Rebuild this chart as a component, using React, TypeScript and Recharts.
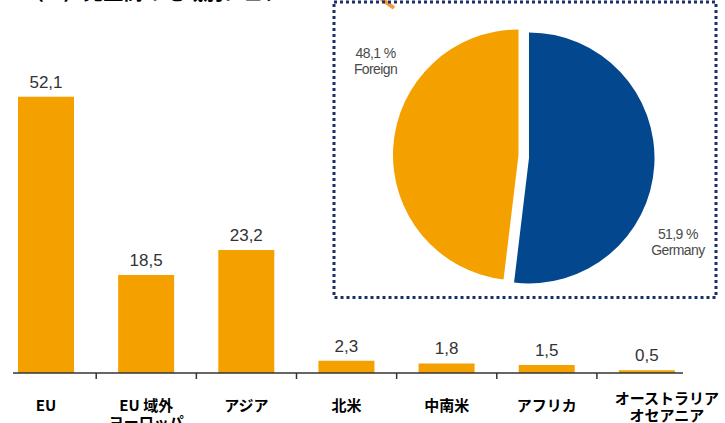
import React from 'react';
import { BarChart, Bar, XAxis, YAxis, LabelList, PieChart, Pie, Cell } from 'recharts';

const regionKeys = ['EU', 'EU域外', 'アジア', '北米', '中南米', 'アフリカ', 'オセアニア'];
const regionLines: string[][] = [
  ['EU'],
  ['EU 域外', 'ヨーロッパ'],
  ['アジア'],
  ['北米'],
  ['中南米'],
  ['アフリカ'],
  ['オーストラリア', 'オセアニア'],
];
const regionShares = [52.1, 18.5, 23.2, 2.3, 1.8, 1.5, 0.5];
const yDomain = [0, 60];

const pieNames = ['Germany', 'Foreign'];
const pieShares = [51.9, 48.1];

const titleText = '（%）売上高の地域別シェア';

const barData = regionKeys.map((k, i) => ({ key: k, value: regionShares[i] }));
const pieData = pieNames.map((n, i) => ({ name: n, value: pieShares[i] }));

const fmt = (v: any) => Number(v).toFixed(1).replace('.', ',');

const ORANGE = '#F4A100';
const BLUE = '#03478F';
const NAVY = '#1B2F6B';
const JP = '"Noto Sans CJK JP", "Noto Sans", sans-serif';
const NARROW = '"Liberation Sans Narrow", "Liberation Sans", Arial, sans-serif';

function RegionTick(props: any) {
  const { x, y, payload } = props;
  const idx = regionKeys.indexOf(payload.value);
  const lines = regionLines[idx] || [String(payload.value)];
  const isLast = idx === regionKeys.length - 1;
  const dx = isLast ? 20 : 0;
  const base = isLast ? 31 : 38;
  return (
    <g>
      {idx > 0 && (
        <line x1={x - 50} x2={x - 50} y1={y} y2={y + 6} stroke="#333" strokeWidth={1.5} />
      )}
      <text
        x={x + dx}
        y={y + base}
        textAnchor="middle"
        fontFamily={JP}
        fontWeight={700}
        fontSize={15}
        fill="#000"
      >
        {lines.map((l, i) => (
          <tspan key={i} x={x + dx} dy={i === 0 ? 0 : 17}>
            {l}
          </tspan>
        ))}
      </text>
    </g>
  );
}

function makePieLabel(showIndex: number) {
  return (props: any) => {
    const { cx, cy, midAngle, index, value, name } = props;
    if (index !== showIndex) return null;
    const RAD = Math.PI / 180;
    const a = (midAngle - 28) * RAD;
    const r = 171;
    const tx = cx + r * Math.cos(a) + 3;
    const ty = cy - r * Math.sin(a);
    return (
      <text
        x={tx}
        y={ty}
        textAnchor="middle"
        fontFamily={NARROW}
        fontSize={14}
        letterSpacing={-0.6}
        fill="#4a4a4a"
      >
        <tspan x={tx} dy={-8}>{`${fmt(value)} %`}</tspan>
        <tspan x={tx} dy={16}>{name}</tspan>
      </text>
    );
  };
}

export default function App() {
  return (
    <div style={{ position: 'absolute', left: 0, top: 0, width: 725, height: 423, overflow: 'hidden', background: '#fff' }}>
      <div style={{ position: 'absolute', left: 0, top: 0 }}>
        <BarChart
          width={725}
          height={423}
          data={barData}
          margin={{ top: 55, right: 42, bottom: 0, left: 13 }}
        >
          <YAxis hide domain={yDomain} />
          <XAxis
            dataKey="key"
            height={50}
            interval={0}
            padding={{ left: -17, right: -14 }}
            tickLine={false}
            tickSize={0}
            tickMargin={0}
            axisLine={{ stroke: '#333', strokeWidth: 1.5 }}
            tick={<RegionTick />}
          />
          <Bar dataKey="value" fill={ORANGE} barSize={56} isAnimationActive={false}>
            <LabelList
              dataKey="value"
              position="top"
              offset={9}
              formatter={fmt}
              fill="#333"
              fontSize={17}
              fontFamily='"Liberation Sans", Arial, sans-serif'
            />
          </Bar>
        </BarChart>
      </div>
      <svg width={725} height={423} style={{ position: 'absolute', left: 0, top: 0 }}>
        <text x={24} y={0} fontFamily={JP} fontWeight={700} fontSize={20} fill="#000">
          {titleText}
        </text>
        <line x1={376} y1={-5} x2={394} y2={8} stroke="#F39A3E" strokeWidth={4} />
        <rect
          x={334}
          y={2}
          width={382}
          height={295.5}
          fill="none"
          stroke={NAVY}
          strokeWidth={3}
          strokeDasharray="3 3"
        />
      </svg>
      <div style={{ position: 'absolute', left: 0, top: 0 }}>
        <PieChart width={725} height={423} margin={{ top: 0, right: 0, bottom: 0, left: 0 }}>
          <Pie
            data={pieData}
            dataKey="value"
            nameKey="name"
            cx={529}
            cy={158}
            outerRadius={125.5}
            startAngle={90}
            endAngle={-270}
            stroke="none"
            labelLine={false}
            label={makePieLabel(0)}
            isAnimationActive={false}
          >
            <Cell fill={BLUE} />
            <Cell fill="none" />
          </Pie>
          <Pie
            data={pieData}
            dataKey="value"
            nameKey="name"
            cx={518.5}
            cy={155}
            outerRadius={125.5}
            startAngle={90}
            endAngle={-270}
            stroke="none"
            labelLine={false}
            label={makePieLabel(1)}
            isAnimationActive={false}
          >
            <Cell fill="none" />
            <Cell fill={ORANGE} />
          </Pie>
        </PieChart>
      </div>
    </div>
  );
}
